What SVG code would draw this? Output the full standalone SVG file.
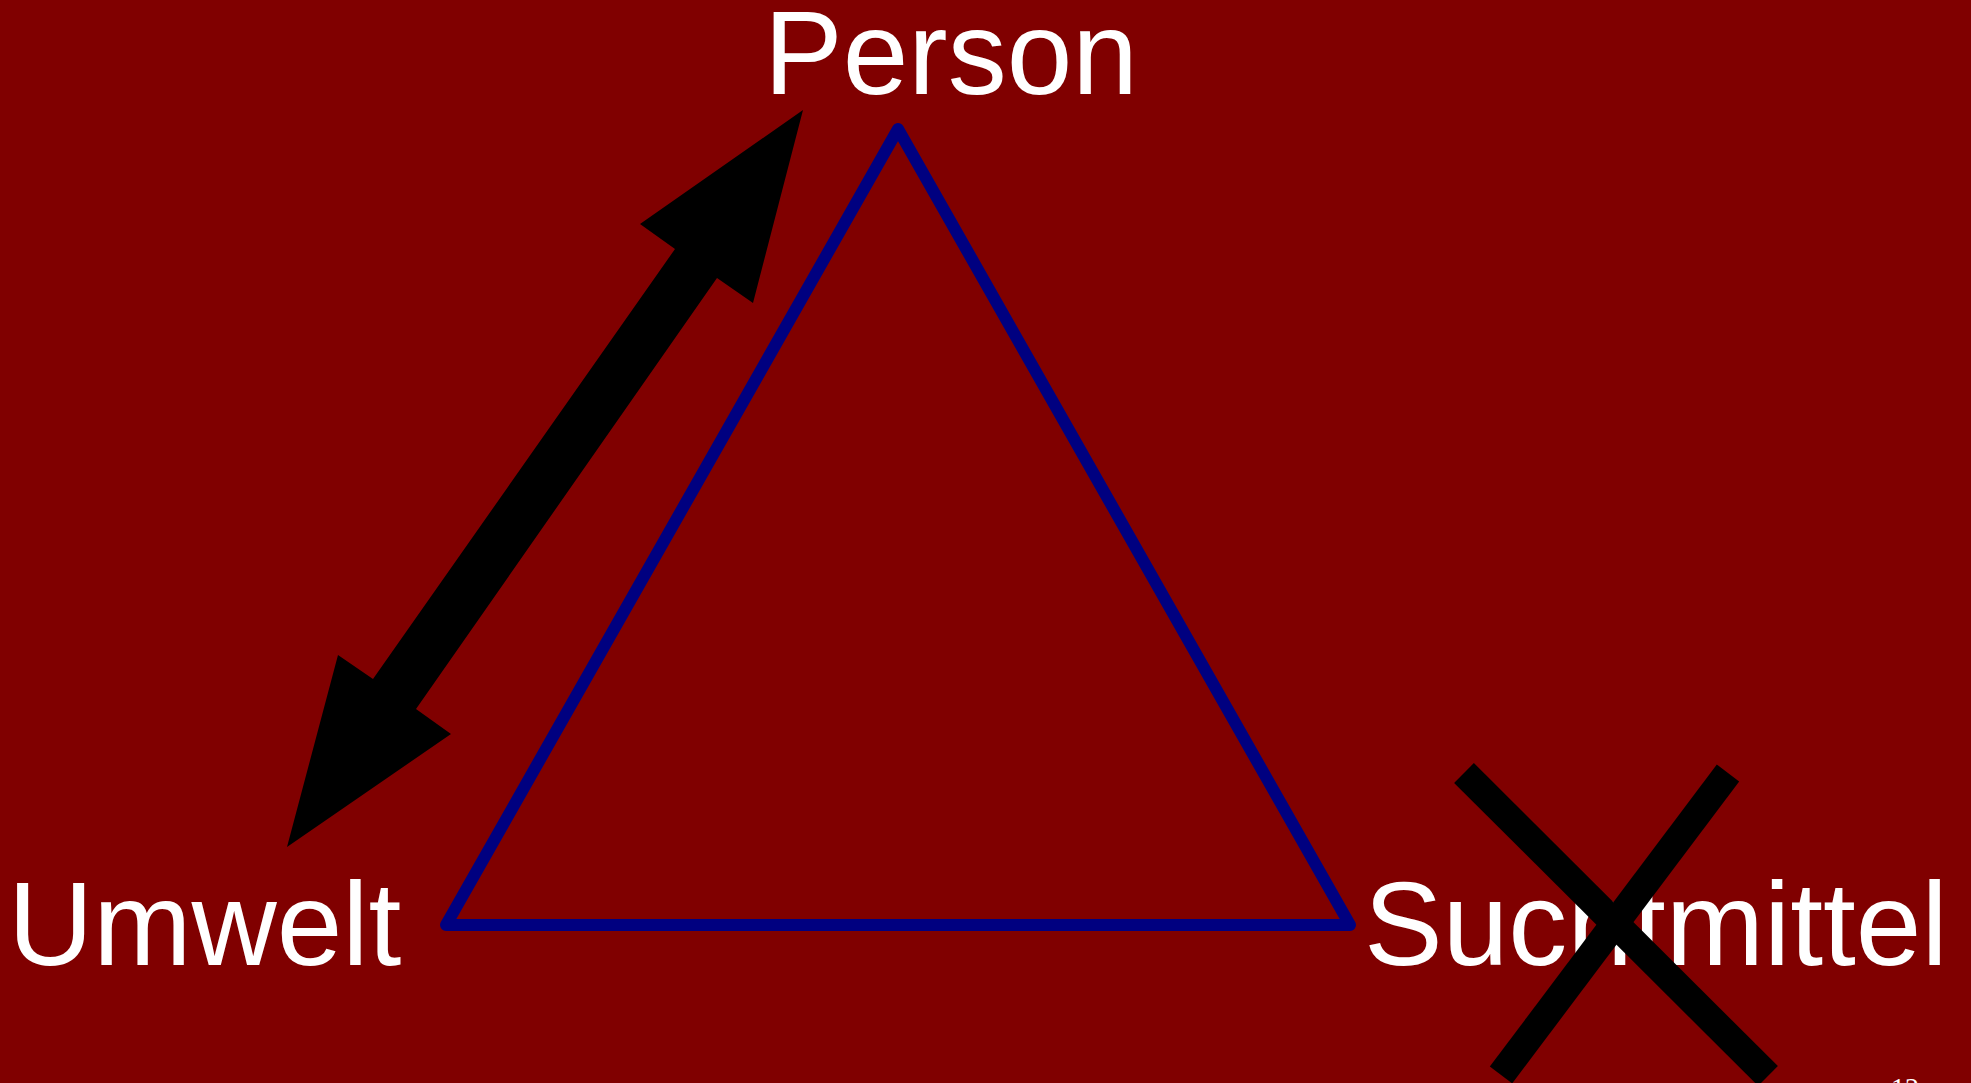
<svg xmlns="http://www.w3.org/2000/svg" width="1971" height="1083" viewBox="0 0 1971 1083">
<style>
.lbl{font-family:"Liberation Sans",Arial,sans-serif;font-size:118px;fill:#ffffff}
.tri{fill:none;stroke:#000080;stroke-width:12;stroke-linejoin:round}
.cross{stroke:#000000;stroke-width:28;stroke-linecap:butt}
</style>
<rect x="0" y="0" width="1971" height="1083" fill="#800000"/>
<g id="triangle">
<polygon class="tri" points="898,129 1350,925 446,925"/>
</g>
<g id="person"><text class="lbl" x="764" y="94">Person</text></g>
<g id="umwelt"><text class="lbl" x="8" y="965">Umwelt</text></g>
<g id="suchtmittel"><text class="lbl" x="1364" y="965">Suchtmittel</text></g>
<g id="connectors">
<polygon fill="#000000" points="803,110 753,303 717,278 416,709 451,734 287,847 338,655 373,679 675,249 640,224"/>
</g>
<g id="cross">
<line class="cross" x1="1464" y1="773" x2="1768" y2="1076"/>
<line class="cross" x1="1728" y1="773" x2="1501" y2="1075"/>
</g>
<g id="page"><text x="1891" y="1097" font-family="'Liberation Serif',serif" font-size="28" fill="#ffffff">12</text></g>
</svg>
